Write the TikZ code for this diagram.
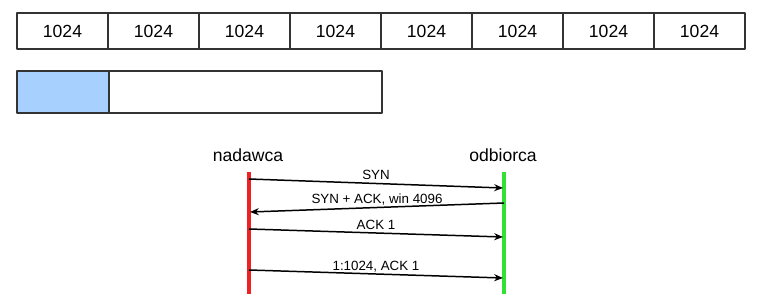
\documentclass[tikz,border=0pt]{standalone}
\usepackage{fontspec}
\setmainfont{Liberation Sans}
\usetikzlibrary{arrows.meta}
\definecolor{winblue}{HTML}{A8D0FF}
\definecolor{sndred}{HTML}{EE2222}
\definecolor{rcvgreen}{HTML}{33E033}
\begin{document}
\begin{tikzpicture}[x=0.02cm,y=-0.02cm,join=round]
    \tikzstyle{cell} = [draw=black!80,line width=1pt,minimum width=1.82cm,
                        minimum height=0.72cm,inner sep=0pt]
    \tikzstyle{msg} = [line width=0.85pt,-{Stealth[length=5pt,width=4pt]}]
    \tikzstyle{ann} = [font=\fontsize{7.6}{9}\selectfont,inner sep=1.8pt,
                       text depth=0pt,above]
    \tikzstyle{life} = [line width=2pt]
    \useasboundingbox (0,0) rectangle (770,303);
    % segments of the stream
    \foreach \i in {0,...,7}
        \node[cell] (c\i) at ({62.5+91*\i},31) {1024};
    % window
    \fill[winblue] (17,71) rectangle (109,113);
    \draw[draw=black!80,line width=1pt] (17,71) rectangle (382,113)
        (109,71) -- (109,113);
    % sender and receiver
    \node (snd) at (248,155) {nadawca};
    \node (rcv) at (503,155) {odbiorca};
    \coordinate (snd-top) at (249,172);
    \coordinate (snd-bot) at (249,294);
    \coordinate (rcv-top) at (504,172);
    \coordinate (rcv-bot) at (504,294);
    \draw[life,sndred] (snd-top) -- (snd-bot);
    \draw[life,rcvgreen] (rcv-top) -- (rcv-bot);
    \coordinate (syn-a) at (249,179);   \coordinate (syn-b) at (503,188);
    \coordinate (ack-a) at (504,203);   \coordinate (ack-b) at (250,212);
    \coordinate (ack1-a) at (249,229);  \coordinate (ack1-b) at (503,237);
    \coordinate (data-a) at (249,270);  \coordinate (data-b) at (503,278);
    \draw[msg] (syn-a) -- node[ann] {SYN} (syn-b);
    \draw[msg] (ack-a) -- node[ann] {SYN + ACK, win 4096} (ack-b);
    \draw[msg] (ack1-a) -- node[ann] {ACK 1} (ack1-b);
    \draw[msg] (data-a) -- node[ann] {1:1024, ACK 1} (data-b);
\end{tikzpicture}
\end{document}
